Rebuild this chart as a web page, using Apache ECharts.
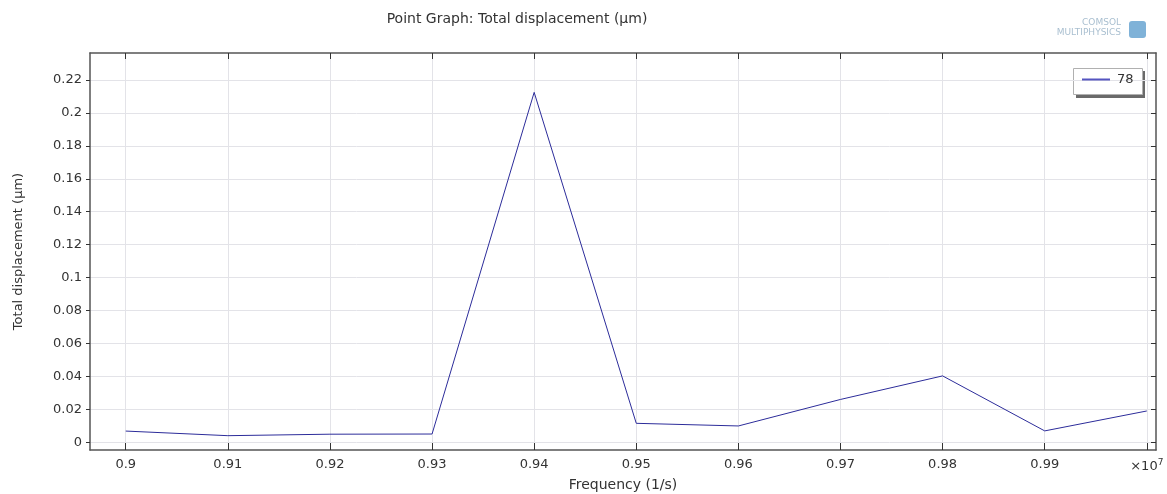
<!DOCTYPE html>
<html>
<head>
<meta charset="utf-8">
<script src="https://cdn.jsdelivr.net/npm/echarts@6/dist/echarts.min.js"></script>
<style>
  html, body { margin: 0; padding: 0; background: #fff; }
  #chart { width: 1167px; height: 494px; }
</style>
</head>
<body>
<div id="chart"></div>
<script>
// frequency in units of 1e7 1/s
var freq = [0.90, 0.91, 0.92, 0.93, 0.94, 0.95, 0.96, 0.97, 0.98, 0.99, 1.00];
var disp = [0.0068, 0.0040, 0.0049, 0.0050, 0.2125, 0.0115, 0.0099, 0.0260, 0.0403, 0.0069, 0.0190];
var xTicks = [0.9, 0.91, 0.92, 0.93, 0.94, 0.95, 0.96, 0.97, 0.98, 0.99, 1.0];
var yTicks = [0, 0.02, 0.04, 0.06, 0.08, 0.1, 0.12, 0.14, 0.16, 0.18, 0.2, 0.22];

var chart = echarts.init(document.getElementById('chart'));
var font = 'DejaVu Sans';
var axisCol = '#555';
var gridCol = '#e3e3e8';

var points = freq.map(function (f, i) { return [f, disp[i]]; });

chart.setOption({
    animation: false,
    textStyle: { fontFamily: font },
    title: {
        text: 'Point Graph: Total displacement (µm)',
        left: 512, top: 7,
        textAlign: 'center',
        textStyle: { fontSize: 14, fontWeight: 'normal', color: '#333', fontFamily: font }
    },
    graphic: [
        // logo
        { type: 'text', right: 46, top: 18, style: { text: 'COMSOL', fontSize: 9, fill: '#a9bfd0', fontFamily: font } },
        { type: 'text', right: 46, top: 28, style: { text: 'MULTIPHYSICS', fontSize: 9, fill: '#a9bfd0', fontFamily: font } },
        { type: 'rect', left: 1129, top: 21, shape: { width: 17, height: 17, r: 3 }, style: { fill: '#7fb2d8' } },
        // legend box with shadow
        { type: 'rect', left: 1076, top: 71, shape: { width: 69, height: 27 }, style: { fill: '#6a6a6a' } },
        { type: 'rect', left: 1073, top: 68, shape: { width: 69, height: 26 }, style: { fill: '#fff', stroke: '#b0b0b0', lineWidth: 1 } }
    ],
    legend: {
        left: 1082, top: 73,
        padding: 0,
        itemWidth: 28, itemHeight: 2, itemGap: 6,
        icon: 'rect',
        textStyle: { fontSize: 13, color: '#333', fontFamily: font, padding: [0, 0, 0, 2] },
        data: [{ name: '78', itemStyle: { color: '#5555c0' } }]
    },
    grid: { left: 90, right: 11, top: 53, bottom: 44, outerBoundsMode: 'none', containLabel: false },
    xAxis: [{
        type: 'value',
        min: 0.8965, max: 1.0009,
        name: 'Frequency (1/s)',
        nameLocation: 'middle', nameGap: 25,
        nameTextStyle: { fontSize: 14, color: '#333', fontFamily: font },
        axisLine: { show: true, onZero: false, lineStyle: { color: axisCol, width: 1.5 } },
        axisTick: { show: true, inside: true, length: 7, customValues: xTicks, lineStyle: { color: '#333' } },
        axisLabel: {
            customValues: xTicks,
            color: '#333', fontSize: 13, margin: 8,
            formatter: function (v) {
                if (Math.abs(v - 1) < 1e-9) return '×10{s|7}';
                return (+v.toFixed(2)).toString();
            },
            rich: { s: { fontSize: 9, verticalAlign: 'top', padding: [0, 0, 8, 0], color: '#333' } }
        },
        splitLine: { show: true, lineStyle: { color: gridCol, width: 1 } }
    }, {
        type: 'value',
        position: 'top',
        min: 0.8965, max: 1.0009,
        axisLine: { show: true, onZero: false, lineStyle: { color: axisCol, width: 1.5 } },
        axisTick: { show: true, inside: true, length: 6, customValues: xTicks, lineStyle: { color: '#333' } },
        axisLabel: { show: false },
        splitLine: { show: false }
    }],
    yAxis: [{
        type: 'value',
        min: -0.0047, max: 0.2364,
        name: 'Total displacement (µm)',
        nameLocation: 'middle', nameGap: 65, nameRotate: 90,
        nameTextStyle: { fontSize: 13, color: '#333', fontFamily: font },
        axisLine: { show: true, onZero: false, lineStyle: { color: axisCol, width: 1.5 } },
        axisTick: { show: true, length: 4, customValues: yTicks, lineStyle: { color: '#333' } },
        axisLabel: {
            customValues: yTicks,
            color: '#333', fontSize: 13, margin: 8,
            formatter: function (v) { return (+v.toFixed(2)).toString(); }
        },
        splitLine: { show: true, lineStyle: { color: gridCol, width: 1 } }
    }, {
        type: 'value',
        position: 'right',
        min: -0.0047, max: 0.2364,
        axisLine: { show: true, onZero: false, lineStyle: { color: axisCol, width: 1.5 } },
        axisTick: { show: true, inside: true, length: 5, customValues: yTicks, lineStyle: { color: '#333' } },
        axisLabel: { show: false },
        splitLine: { show: false }
    }],
    series: [{
        name: '78',
        type: 'line',
        xAxisIndex: 0, yAxisIndex: 0,
        symbol: 'none',
        lineStyle: { color: '#2c2c9a', width: 1 },
        itemStyle: { color: '#2c2c9a' },
        data: points
    }]
});
</script>
</body>
</html>
